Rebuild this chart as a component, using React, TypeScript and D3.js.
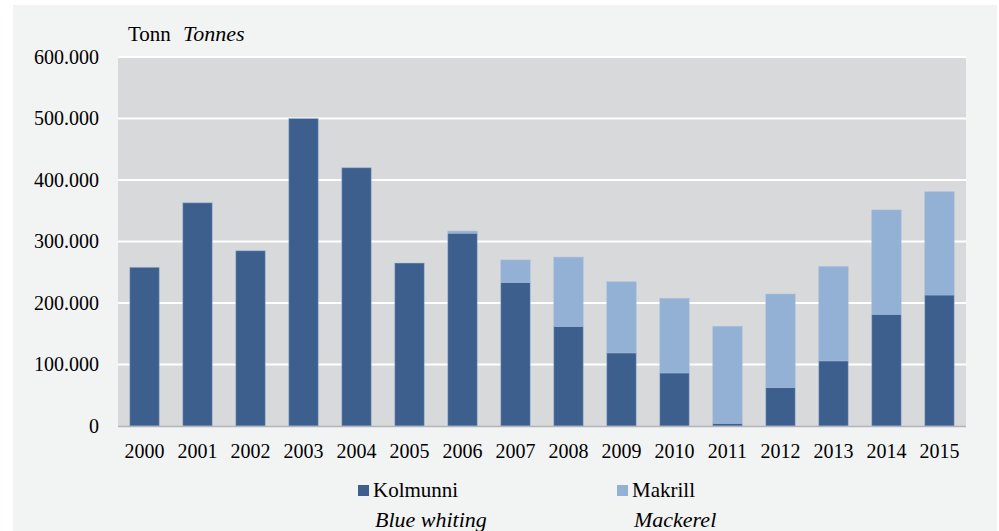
import React from "react";
import * as d3 from "d3";

const years = ["2000","2001","2002","2003","2004","2005","2006","2007","2008","2009","2010","2011","2012","2013","2014","2015"];
const kolmunni = [258000, 363000, 285000, 500000, 420000, 265000, 313500, 233500, 162000, 119000, 86300, 4300, 62700, 106000, 181600, 213000];
const makrill = [0, 0, 0, 0, 0, 0, 3500, 36500, 112500, 115600, 121200, 157700, 151800, 153400, 169800, 168000];
const yTicks = [0, 100000, 200000, 300000, 400000, 500000, 600000];
const seriesNames = ["Kolmunni", "Makrill"];
const seriesSub = ["Blue whiting", "Mackerel"];
const colors = ["#3c5f8e", "#93b0d5"];

const W = 999, H = 531;
const m = { left: 118, right: 966, top: 57, bottom: 426 };
const font = "'Liberation Serif', 'Times New Roman', serif";

const fmt = (v: number) => (v === 0 ? "0" : d3.format(",")(v).replace(/,/g, "."));

export default function App() {
  const x = d3.scaleBand<string>().domain(years).range([m.left, m.right]).paddingInner(0.443).paddingOuter(0.222);
  const y = d3.scaleLinear().domain([0, 600000]).range([m.bottom, m.top]);
  const data = years.map((yr, i) => ({ year: yr, Kolmunni: kolmunni[i], Makrill: makrill[i] }));
  const stack = d3.stack<any>().keys(seriesNames)(data);

  return (
    <svg width={W} height={H} style={{ position: "absolute", left: 0, top: 0 }}>
      <rect x={0} y={0} width={W} height={H} fill="#ffffff" />
      <rect x={13} y={5} width={984} height={H - 5} fill="#f2f3f3" />
      <rect x={m.left} y={m.top} width={m.right - m.left} height={m.bottom - m.top} fill="#d8d9db" />
      {yTicks.filter(t => t > 0).map(t => (
        <line key={t} x1={m.left} x2={m.right} y1={y(t)} y2={y(t)} stroke="#ffffff" strokeWidth={2} />
      ))}
      {stack.map((s, si) => (
        <g key={si}>
          {s.map((d, i) => {
            const h = y(d[0]) - y(d[1]);
            if (h <= 0) return null;
            return (
              <rect key={i} x={x(years[i])!} y={y(d[1])} width={x.bandwidth()} height={h}
                fill={colors[si]} stroke="#a9bfdc" strokeOpacity={0.45} strokeWidth={1} />
            );
          })}
        </g>
      ))}
      <line x1={m.left} x2={m.right} y1={m.bottom + 0.5} y2={m.bottom + 0.5} stroke="#b2b5ba" strokeWidth={1.5} />
      {yTicks.map(t => (
        <text key={t} x={99} y={y(t) + 6.5} textAnchor="end" fontFamily={font} fontSize={20} fill="#000">{fmt(t)}</text>
      ))}
      {years.map(yr => (
        <text key={yr} x={x(yr)! + x.bandwidth() / 2} y={458} textAnchor="middle" fontFamily={font} fontSize={20} fill="#000">{yr}</text>
      ))}
      <text x={128} y={41} fontFamily={font} fontSize={21} fill="#000">Tonn</text>
      <text x={183} y={41} fontFamily={font} fontSize={22} fontStyle="italic" fill="#000">Tonnes</text>
      {seriesNames.map((n, i) => {
        const lx = i === 0 ? 358 : 617;
        return (
          <g key={n}>
            <rect x={lx} y={485} width={11} height={11} fill={colors[i]} />
            <text x={lx + 15} y={497} fontFamily={font} fontSize={21} fill="#000">{n}</text>
            <text x={lx + 17} y={527} fontFamily={font} fontSize={22} fontStyle="italic" fill="#000">{seriesSub[i]}</text>
          </g>
        );
      })}
    </svg>
  );
}
